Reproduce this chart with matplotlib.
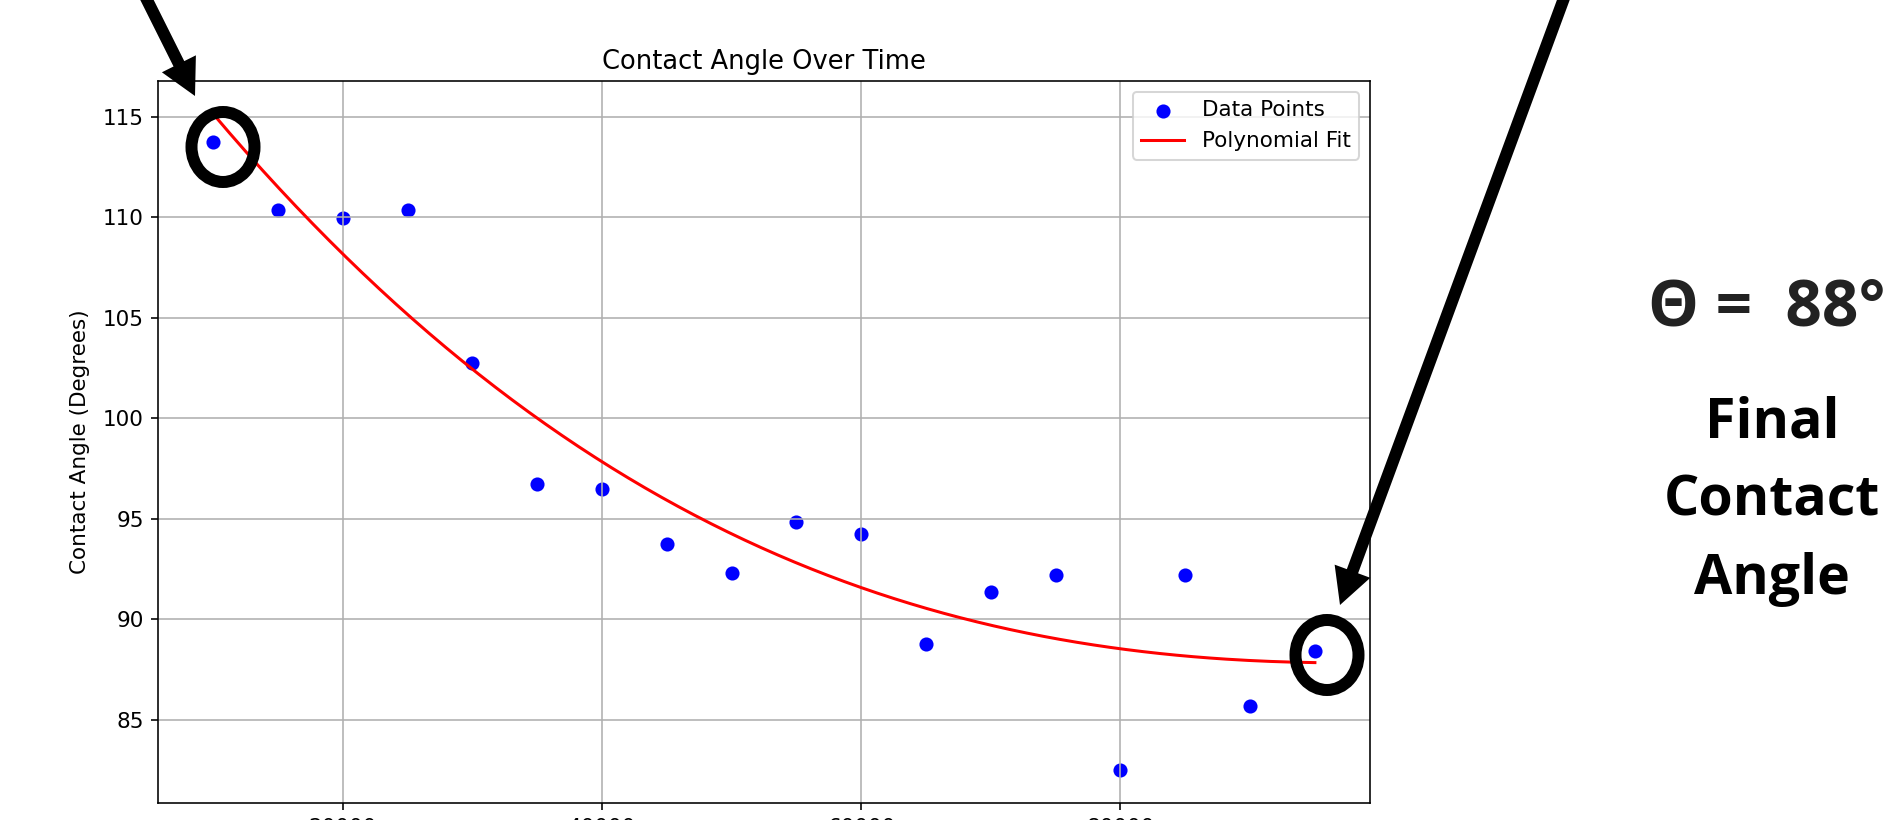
import numpy as np
import matplotlib
matplotlib.use("Agg")
from matplotlib import pyplot as plt
from matplotlib.patches import FancyArrow, Ellipse

# contact angle readings
time_vals = [10000, 15000, 20000, 25000, 30000, 35000, 40000, 45000, 50000,
             55000, 60000, 65000, 70000, 75000, 80000, 85000, 90000, 95000]
angles = [113.75, 110.35, 109.95, 110.35, 102.75, 96.75, 96.5, 93.75, 92.3,
          94.85, 94.25, 88.8, 91.35, 92.2, 82.5, 92.2, 85.7, 88.45]
fit_degree = 3
final_angle_text = "\u0398 =  88\u00b0"
side_lines = ["Final", "Contact", "Angle"]

DPI = 145
W, H = 1891, 820
plt.rcParams["font.size"] = 10.7
fig = plt.figure(figsize=(W / DPI, H / DPI), dpi=DPI)

ax = fig.add_axes([158 / W, 1 - 803 / H, (1370 - 158) / W, (803 - 81) / H])
ax.scatter(time_vals, angles, color="blue", label="Data Points")
coef = np.polyfit(time_vals, angles, fit_degree)
xs = np.linspace(min(time_vals), max(time_vals), 200)
ax.plot(xs, np.polyval(coef, xs), color="red", label="Polynomial Fit")
ax.set_title("Contact Angle Over Time", fontsize=12.8)
ax.set_ylabel("Contact Angle (Degrees)", labelpad=6.5)
ax.set_xticks([20000, 40000, 60000, 80000])
ax.tick_params(axis="x", pad=3.8)
ax.grid(True)
ax.legend(loc="upper right")

# annotation layer in pixel units
ov = fig.add_axes([0, 0, 1, 1], zorder=10)
ov.set_xlim(0, W)
ov.set_ylim(H, 0)
ov.axis("off")
ov.patch.set_alpha(0)

lw_ring = 12 * 72 / DPI
for (x0, y0, x1, y1) in [(142, -10, 195, 96), (1567, -10, 1340, 605)]:
    ov.add_patch(FancyArrow(x0, y0, x1 - x0, y1 - y0, width=12, head_width=38,
                            head_length=36, length_includes_head=True,
                            color="black", linewidth=0))
for (cx, cy) in [(223, 147), (1327, 655)]:
    ov.add_patch(Ellipse((cx, cy), 63, 70, fill=False, edgecolor="black",
                         linewidth=lw_ring))

ov.text(1767, 326, final_angle_text, ha="center", va="baseline",
        fontsize=46 * 100 / DPI, fontweight="bold", family="Open Sans",
        color="#222222")
for txt, base in zip(side_lines, [437, 516, 594]):
    ov.text(1772, base, txt, ha="center", va="baseline",
            fontsize=40 * 100 / DPI, fontweight="bold", family="Open Sans",
            color="black")

fig.savefig("out.png", dpi=DPI)
